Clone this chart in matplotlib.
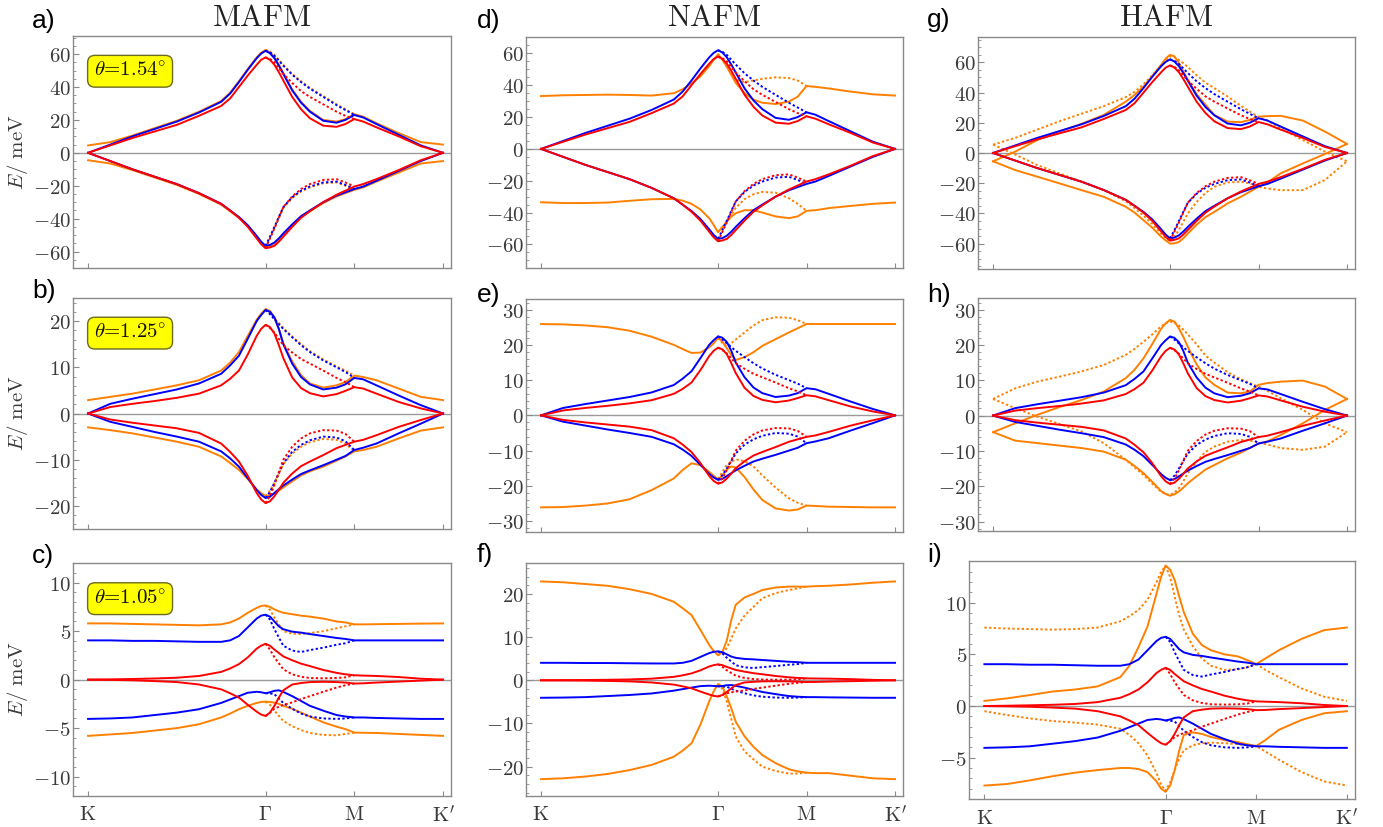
import matplotlib
matplotlib.use("Agg")
import matplotlib.pyplot as plt
from matplotlib.ticker import MultipleLocator

plt.rcParams['mathtext.fontset'] = 'cm'

# ---------------- k-path ----------------
K_PATH = [0, 0.25, 0.5, 0.75, 1.0, 1.25, 1.5,
          1.6, 1.7, 1.8, 1.9, 1.95,
          2.0, 2.05, 2.1, 2.15, 2.2,
          2.3, 2.4, 2.5, 2.65, 2.8, 2.9,
          3.0, 3.1, 3.25, 3.5, 3.75, 4.0]
K_GM = [2.0, 2.05, 2.1, 2.2, 2.3, 2.4, 2.5, 2.65, 2.8, 2.9, 3.0]
SYM_POS = [0, 2, 3, 4]
SYM_LABELS = [r"$\mathrm{K}$", r"$\Gamma$", r"$\mathrm{M}$", r"$\mathrm{K}^{\prime}$"]
COLUMN_TITLES = ["MAFM", "NAFM", "HAFM"]
ANGLES = ["1.54", "1.25", "1.05"]
PANEL_LETTERS = ["a)", "b)", "c)", "d)", "e)", "f)", "g)", "h)", "i)"]

# ---------------- red / blue bands per twist angle ----------------
# theta = 1.54
r1_blue_up = [0, 5, 10, 14.5, 19, 24.5, 31, 36, 43, 50.5, 57.5, 60.3, 62, 60.5, 57.5, 53, 48, 38, 30.5, 25, 19.5, 18.3, 20, 23, 21.5, 17.5, 11, 4.5, 0]
r1_red_up = [0, 4.5, 9, 13, 17, 22.5, 28.5, 33, 40, 47, 53.5, 56.5, 58, 56.5, 53.5, 49, 44, 34, 26.5, 21, 16.5, 15.8, 17.5, 20.5, 19, 15.5, 10, 4, 0]
r1_blue_dn = [0, -5, -10, -14.5, -19, -24.5, -31, -35, -39, -44, -50.5, -54, -56.5, -56, -54.5, -52, -49, -43.5, -38.5, -35, -30, -26, -24, -22, -20.5, -17, -11, -5, 0]
r1_red_dn = [0, -5, -10, -14.5, -19, -24.5, -31, -35, -39.5, -45, -52, -55.5, -58, -57.5, -56.5, -54, -51, -45, -39.5, -35.5, -30, -25.5, -23, -20.5, -19, -16, -10.5, -4.5, 0]
r1_blue_up_d = [62, 61, 59, 53, 47.5, 43, 39, 34, 29, 26, 23]
r1_red_up_d = [58, 57, 55, 48, 42.5, 37.5, 34, 29.5, 25, 22.5, 20.5]
r1_blue_dn_d = [-56.5, -51, -45, -33, -27, -23, -20.5, -18, -17.5, -19.5, -22]
r1_red_dn_d = [-58, -52, -46, -33, -26.5, -22, -19, -16.5, -16, -18, -20.5]

# theta = 1.25
r2_blue_up = [0, 2.1, 3.2, 4.2, 5.2, 6.5, 8.6, 10.4, 12.5, 16.2, 20, 21.3, 22.4, 22, 20.8, 18.3, 15, 10.8, 7.9, 6.3, 5.2, 5.6, 6.3, 7.7, 7.4, 6.1, 3.9, 1.8, 0]
r2_red_up = [0, 1.4, 2.1, 2.7, 3.4, 4.3, 6.1, 7.5, 9.3, 12.8, 16.8, 18.3, 19.2, 18.7, 17.3, 14.8, 12, 7.8, 5.5, 4.4, 3.7, 4.2, 4.9, 5.7, 5.4, 4.3, 2.5, 1.1, 0]
r2_blue_dn = [0, -1.8, -2.9, -4, -5, -6.1, -8.2, -9.7, -11.5, -14, -16.6, -17.6, -18.3, -18, -17.2, -16.4, -15.6, -14.3, -13.1, -12.3, -11.2, -10, -9.2, -7.9, -7.4, -6.5, -4.3, -2.2, 0]
r2_red_dn = [0, -1.3, -2, -2.6, -3.2, -4.2, -6.5, -8.3, -10.4, -13.5, -17.2, -18.6, -19.4, -19, -17.9, -16.5, -15, -13, -11.4, -10.4, -9, -7.5, -6.8, -6.1, -5.7, -4.7, -2.9, -1.4, 0]
r2_blue_up_d = [22.4, 21.5, 20.4, 18.3, 16.5, 14.8, 13.3, 11.5, 10, 9, 7.7]
r2_red_up_d = [19.2, 18.5, 17.5, 14.8, 13.2, 11.8, 10.8, 9.3, 7.7, 6.8, 5.7]
r2_blue_dn_d = [-18.3, -17, -15, -10.8, -8.3, -6.8, -5.8, -5, -5.2, -6, -7.9]
r2_red_dn_d = [-19.4, -17.8, -15.5, -10, -7.2, -5.4, -4.3, -3.6, -3.7, -4.4, -6.1]

# theta = 1.05
r3_blue_up = [4.05, 4.05, 4.0, 4.0, 3.95, 3.9, 3.9, 4.05, 4.5, 5.4, 6.3, 6.6, 6.7, 6.5, 6.0, 5.5, 5.2, 4.95, 4.85, 4.7, 4.5, 4.3, 4.2, 4.05, 4.05, 4.05, 4.05, 4.05, 4.05]
r3_red_up = [0, 0.03, 0.07, 0.12, 0.2, 0.38, 0.8, 1.15, 1.6, 2.3, 3.2, 3.5, 3.7, 3.5, 3.1, 2.75, 2.4, 2.0, 1.65, 1.4, 1.0, 0.7, 0.55, 0.45, 0.42, 0.38, 0.27, 0.1, 0]
r3_blue_dn = [-4.05, -4.0, -3.9, -3.65, -3.4, -3.05, -2.4, -2.05, -1.7, -1.35, -1.25, -1.3, -1.4, -1.3, -1.15, -1.1, -1.27, -1.7, -2.2, -2.7, -3.2, -3.65, -3.8, -3.9, -3.9, -3.95, -4.0, -4.05, -4.05]
r3_red_dn = [0, -0.03, -0.07, -0.15, -0.25, -0.5, -1.0, -1.4, -1.85, -2.6, -3.3, -3.6, -3.75, -3.4, -2.7, -1.85, -1.1, -0.5, -0.35, -0.25, -0.22, -0.25, -0.3, -0.4, -0.38, -0.3, -0.2, -0.1, 0]
r3_blue_up_d = [6.7, 6.2, 5.2, 3.5, 3.0, 2.85, 3.05, 3.3, 3.6, 3.75, 4.05]
r3_red_up_d = [3.7, 3.1, 2.3, 1.07, 0.55, 0.3, 0.17, 0.14, 0.17, 0.24, 0.45]
r3_blue_dn_d = [-1.4, -1.42, -1.5, -2.4, -3.0, -3.5, -3.8, -4.0, -4.05, -4.0, -3.9]
r3_red_dn_d = [-3.75, -3.4, -3.0, -2.6, -2.35, -2.0, -1.7, -1.25, -0.82, -0.58, -0.4]

# ---------------- orange bands per panel ----------------
# MAFM: solid on the full path, dotted on Gamma-M
a_orange_up = [4.5, 6.5, 10.5, 15, 19.5, 25, 31.5, 36.5, 43.5, 51, 58, 60.8, 62.5, 61, 58, 53.5, 48.5, 38.5, 31, 25.5, 20, 19, 20.5, 23.5, 22, 18, 12, 6.5, 5]
a_orange_dn = [-4.5, -6.5, -10.5, -15, -19.5, -25, -31.5, -35.5, -39.5, -44.5, -51, -54.5, -57, -56.5, -55, -52.5, -49.5, -44, -39, -35.5, -30.5, -26.5, -24.5, -22.5, -21, -17.5, -12, -6.5, -5]
a_orange_up_d = [62.5, 61.5, 59.5, 53.5, 48, 43.5, 39.5, 34.5, 29.5, 26.5, 23.5]
a_orange_dn_d = [-57, -51.5, -45.5, -33.5, -27.5, -23.5, -21, -18.5, -18, -20, -22.5]

b_orange_up = [2.9, 3.6, 4.3, 5.2, 6.1, 7.2, 9.3, 11, 13.3, 16.8, 20.3, 21.6, 22.6, 22.2, 20.8, 18.3, 15.2, 11.3, 8.3, 6.5, 5.6, 6.1, 6.8, 8.2, 7.9, 7.2, 5.4, 3.6, 2.9]
b_orange_dn = [-3, -3.6, -4.3, -5.2, -6.1, -7.2, -9.3, -10.7, -12.2, -14.2, -16.4, -17.2, -17.9, -17.7, -17.3, -16.7, -16, -14.7, -13.4, -12.5, -11.5, -10.2, -9.3, -8.2, -7.9, -7.2, -5.4, -3.7, -3]
b_orange_up_d = [22.6, 21.7, 20.6, 18.5, 16.7, 15, 13.5, 11.7, 10.2, 9.3, 8.2]
b_orange_dn_d = [-17.9, -16.7, -15, -11, -8.7, -7.2, -6.2, -5.5, -5.7, -6.5, -8.2]

c_orange_up = [5.8, 5.8, 5.75, 5.7, 5.65, 5.6, 5.7, 5.9, 6.3, 6.9, 7.4, 7.6, 7.65, 7.5, 7.25, 7.05, 6.9, 6.75, 6.6, 6.5, 6.3, 6.0, 5.9, 5.7, 5.7, 5.72, 5.75, 5.78, 5.8]
c_orange_dn = [-5.8, -5.65, -5.5, -5.25, -5.0, -4.6, -3.9, -3.5, -3.05, -2.7, -2.4, -2.3, -2.27, -2.3, -2.37, -2.5, -2.7, -3.0, -3.4, -3.8, -4.4, -4.85, -5.1, -5.46, -5.48, -5.5, -5.6, -5.7, -5.8]
c_orange_up_d = [7.65, 7.2, 6.4, 5.0, 4.75, 4.7, 4.8, 5.0, 5.3, 5.5, 5.7]
c_orange_dn_d = [-2.27, -2.6, -3.2, -4.26, -4.8, -5.2, -5.5, -5.7, -5.74, -5.6, -5.46]

# NAFM: solid on the full path, dotted on Gamma-M
d_orange_up = [33.2, 33.7, 33.9, 34.1, 33.9, 33.5, 35, 37.5, 41.2, 45.5, 52, 55.8, 59.5, 56, 51.5, 46.5, 41.5, 35, 31, 29, 28.2, 29.7, 32.8, 39.5, 39, 38, 36, 34.3, 33.5]
d_orange_dn = [-33.5, -34, -34, -33.7, -32.6, -31.6, -31.4, -32.5, -34.5, -38, -43.5, -47.7, -52.3, -49, -45.6, -42.5, -40.4, -38.5, -38.5, -40, -42.4, -43.5, -42.4, -38.9, -38.5, -37.2, -35.8, -34.5, -33.7]
d_orange_up_d = [59.5, 56, 51.5, 43.5, 42, 43, 44, 45, 44.5, 43, 39.5]
d_orange_dn_d = [-52.3, -49, -45.6, -37, -31.5, -28.5, -27, -27.5, -31, -34.5, -38.9]

e_orange_up = [25.9, 25.8, 25.5, 25, 24, 22.3, 20, 18.8, 17.7, 17.8, 19.3, 20.4, 22, 20.9, 19, 17.1, 15.7, 16.5, 17.9, 19.7, 21.6, 23.5, 24.7, 25.9, 25.9, 25.9, 25.9, 25.9, 25.9]
e_orange_dn = [-26.1, -26, -25.6, -25, -23.8, -21.2, -17.9, -15.5, -13.6, -14.1, -16, -17.1, -18.1, -17, -15.3, -14.5, -14.8, -17.5, -21, -24, -26.4, -27, -26.7, -25.6, -25.7, -25.9, -26, -26.1, -26.1]
e_orange_up_d = [22, 20.5, 19.5, 21.5, 23.5, 25.5, 27, 27.8, 27.7, 27, 25.9]
e_orange_dn_d = [-18.1, -16, -14, -12.5, -13, -14.5, -17, -20.5, -23.5, -24.8, -25.6]

f_orange_up = [22.9, 22.7, 22.3, 21.9, 21.1, 20, 18.2, 16.7, 15.1, 11.7, 8.2, 6.8, 5.8, 6.6, 9.3, 14, 17.5, 19.2, 20, 20.9, 21.5, 21.7, 21.7, 21.7, 21.8, 21.9, 22.2, 22.6, 22.9]
f_orange_dn = [-22.9, -22.7, -22.3, -21.7, -20.8, -19.6, -17.7, -16.3, -14.6, -10.3, -4.9, -2.6, -0.85, -1.5, -3.8, -6.5, -9.6, -13, -15.4, -17.3, -19.2, -20.6, -21.1, -21.4, -21.5, -21.5, -22.1, -22.7, -22.9]
f_orange_up_d = [5.8, 6.3, 7.5, 12, 15, 17, 19, 20.2, 20.9, 21.3, 21.7]
f_orange_dn_d = [-0.85, -2, -5, -13, -16.5, -18.3, -20, -21, -21.6, -21.6, -21.4]

# HAFM: solid and dotted on the full path
g_orange_s1 = [-5.5, 0.9, 8.6, 14.2, 19.3, 25.2, 34, 38.5, 44, 51, 58.5, 62.5, 65, 64, 59.5, 54, 48.5, 39, 32, 25.2, 20.8, 20.4, 21.9, 24.1, 24.4, 24.6, 21.5, 14.2, 6]
g_orange_s2 = [-5.5, -11.3, -15.7, -20.1, -24.6, -29, -35.6, -39.5, -44.5, -49.5, -55.5, -57.8, -60, -59.8, -58.9, -56.5, -53.4, -47.5, -42.5, -39, -33.4, -29, -25.7, -22.4, -19.5, -13.5, -6.9, -0.7, 6]
g_orange_d1 = [5.5, 10, 15.5, 21, 26, 31, 37, 40.5, 45.5, 51.5, 58, 61, 64, 63.5, 61.5, 59.5, 57, 51.5, 46.5, 43, 37.4, 31.2, 27.5, 23.7, 21.5, 16.4, 8.6, 0.9, -5.5]
g_orange_d2 = [5.5, -1, -8, -13.5, -19, -24.5, -32, -36.5, -41.5, -47, -53.5, -56, -58.5, -55.5, -51, -45.5, -40, -32.5, -26.5, -22.4, -19.5, -19, -20.1, -22.4, -23.5, -24.6, -24.6, -17.9, -5.5]

h_orange_s1 = [-4.7, -2.2, 0.2, 2.4, 4.4, 6.8, 10.6, 13, 16.2, 20.3, 24.6, 26.1, 27.1, 26.6, 24.7, 22.3, 19.5, 14.5, 10.8, 8.7, 6.5, 6.3, 6.8, 8.7, 9.2, 9.6, 9.9, 8.2, 4.7]
h_orange_s2 = [-4.7, -7.1, -7.8, -8.5, -9.2, -10.2, -12.5, -14.3, -16.3, -18.8, -21.4, -22.2, -22.7, -22.3, -21.5, -20.4, -19.2, -17.2, -15.3, -14, -12.1, -10.5, -9.2, -8, -7.3, -5.5, -2.2, 1.6, 4.7]
h_orange_d1 = [4.7, 7.7, 9.6, 11, 12.5, 14.3, 17.2, 18.9, 20.9, 23, 25.3, 26.1, 26.6, 26.3, 25.5, 24.3, 23, 20.2, 17, 15, 12.3, 10.3, 9.2, 8.2, 7, 4.9, 1.6, -2.2, -4.7]
h_orange_d2 = [4.7, 2.1, -0.3, -2.4, -4.5, -7.8, -12.5, -14.7, -16.8, -19.3, -21.6, -22.2, -22.5, -21.8, -20.6, -18.6, -16.3, -13, -10.3, -8.8, -7.4, -6.9, -7.1, -7.6, -8.2, -9.2, -9.7, -8.8, -4.7]

i_orange_s1 = [0.5, 0.74, 1.06, 1.4, 1.6, 1.9, 2.8, 3.9, 5.7, 7.7, 10.9, 12.5, 13.6, 13.2, 12.2, 10.6, 9.1, 7.0, 5.9, 5.4, 5, 4.8, 4.45, 4.06, 4.6, 5.4, 6.5, 7.35, 7.6]
i_orange_s2 = [-7.7, -7.55, -7.2, -6.8, -6.45, -6.2, -6.0, -6.0, -6.1, -6.4, -7.3, -8.0, -8.3, -7.7, -6.2, -4.3, -2.8, -2.55, -2.7, -3, -3.3, -3.5, -3.7, -3.87, -3.3, -2.3, -1.35, -0.7, -0.5]
i_orange_d1 = [7.6, 7.5, 7.45, 7.4, 7.45, 7.6, 8.2, 8.7, 9.3, 10.3, 12, 13, 13.55, 12.5, 10.6, 8.8, 7.4, 5.8, 4.6, 3.9, 3.5, 3.55, 3.75, 4.06, 3.5, 2.8, 1.7, 0.9, 0.5]
i_orange_d2 = [-0.5, -0.87, -1.2, -1.45, -1.6, -1.8, -2.2, -2.8, -3.6, -4.8, -6.5, -7.6, -8.2, -7.4, -6.2, -5.1, -4.3, -3.8, -3.6, -3.55, -3.6, -3.7, -3.8, -3.87, -4.4, -5.2, -6.4, -7.3, -7.7]

# ---------------- style ----------------
ORANGE = '#FF8000'
BLUE = '#0000FF'
RED = '#FF0000'
LW = 1.4
DOT = (0, (1.2, 1.2))
FRAME = '#8a8a8a'
TXT = '#3a3a3a'

W, H = 1383, 827
fig = plt.figure(figsize=(W / 100, H / 100), dpi=100)

# axes boxes in pixels: left, top, right, bottom
boxes = [
    (73, 36, 451, 268), (73, 298, 451, 529), (73, 563.3, 451, 796),
    (526, 36.7, 903, 268.3), (526, 299, 903, 531.7), (526, 563.3, 903, 796),
    (978, 36.7, 1355, 269.3), (978, 298.3, 1355, 530.7), (969, 560.7, 1355, 799.3),
]
ylims = [(-70, 71), (-25, 25), (-12, 12),
         (-75, 70.5), (-33, 33), (-26.8, 27.1),
         (-77, 77), (-32.6, 33.2), (-9.03, 14.07)]
yticks = [[-60, -40, -20, 0, 20, 40, 60], [-20, -10, 0, 10, 20], [-10, -5, 0, 5, 10],
          [-60, -40, -20, 0, 20, 40, 60], [-30, -20, -10, 0, 10, 20, 30], [-20, -10, 0, 10, 20],
          [-60, -40, -20, 0, 20, 40, 60], [-30, -20, -10, 0, 10, 20, 30], [-5, 0, 5, 10]]
yminor = [5, 2, 1, 5, 2, 2, 5, 2, 1]

rows = [
    dict(bu=r1_blue_up, ru=r1_red_up, bd=r1_blue_dn, rd=r1_red_dn,
         bud=r1_blue_up_d, rud=r1_red_up_d, bdd=r1_blue_dn_d, rdd=r1_red_dn_d),
    dict(bu=r2_blue_up, ru=r2_red_up, bd=r2_blue_dn, rd=r2_red_dn,
         bud=r2_blue_up_d, rud=r2_red_up_d, bdd=r2_blue_dn_d, rdd=r2_red_dn_d),
    dict(bu=r3_blue_up, ru=r3_red_up, bd=r3_blue_dn, rd=r3_red_dn,
         bud=r3_blue_up_d, rud=r3_red_up_d, bdd=r3_blue_dn_d, rdd=r3_red_dn_d),
]

# orange curves: (x, y, dotted?)
orange_sets = [
    [(K_GM, a_orange_up_d, True), (K_GM, a_orange_dn_d, True), (K_PATH, a_orange_up, False), (K_PATH, a_orange_dn, False)],
    [(K_GM, b_orange_up_d, True), (K_GM, b_orange_dn_d, True), (K_PATH, b_orange_up, False), (K_PATH, b_orange_dn, False)],
    [(K_GM, c_orange_up_d, True), (K_GM, c_orange_dn_d, True), (K_PATH, c_orange_up, False), (K_PATH, c_orange_dn, False)],
    [(K_GM, d_orange_up_d, True), (K_GM, d_orange_dn_d, True), (K_PATH, d_orange_up, False), (K_PATH, d_orange_dn, False)],
    [(K_GM, e_orange_up_d, True), (K_GM, e_orange_dn_d, True), (K_PATH, e_orange_up, False), (K_PATH, e_orange_dn, False)],
    [(K_GM, f_orange_up_d, True), (K_GM, f_orange_dn_d, True), (K_PATH, f_orange_up, False), (K_PATH, f_orange_dn, False)],
    [(K_PATH, g_orange_d1, True), (K_PATH, g_orange_d2, True), (K_PATH, g_orange_s1, False), (K_PATH, g_orange_s2, False)],
    [(K_PATH, h_orange_d1, True), (K_PATH, h_orange_d2, True), (K_PATH, h_orange_s1, False), (K_PATH, h_orange_s2, False)],
    [(K_PATH, i_orange_d1, True), (K_PATH, i_orange_d2, True), (K_PATH, i_orange_s1, False), (K_PATH, i_orange_s2, False)],
]

for idx in range(9):
    col, row = divmod(idx, 3)
    L, T, R, B = boxes[idx]
    ax = fig.add_axes([L / W, 1 - B / H, (R - L) / W, (B - T) / H])
    ax.set_xlim(-0.17, 4.09)
    ax.set_ylim(*ylims[idx])
    ax.axhline(0, color='#9a9a9a', lw=1.0, zorder=1)

    for x, y, dotted in orange_sets[idx]:
        ax.plot(x, y, color=ORANGE, lw=LW, ls=DOT if dotted else '-', zorder=2,
                solid_joinstyle='round')
    rd = rows[row]
    for key in ('bud', 'bdd'):
        ax.plot(K_GM, rd[key], color=BLUE, lw=LW, ls=DOT, zorder=3)
    for key in ('bu', 'bd'):
        ax.plot(K_PATH, rd[key], color=BLUE, lw=LW, zorder=3, solid_joinstyle='round')
    for key in ('rud', 'rdd'):
        ax.plot(K_GM, rd[key], color=RED, lw=LW, ls=DOT, zorder=4)
    for key in ('ru', 'rd'):
        ax.plot(K_PATH, rd[key], color=RED, lw=LW, zorder=4, solid_joinstyle='round')

    for s in ax.spines.values():
        s.set_color(FRAME)
        s.set_linewidth(1.0)

    ax.set_yticks(yticks[idx])
    ax.set_yticklabels([r"$%d$" % t for t in yticks[idx]])
    ax.yaxis.set_minor_locator(MultipleLocator(yminor[idx]))
    ax.set_xticks(SYM_POS)
    if row == 2:
        ax.set_xticklabels(SYM_LABELS)
    else:
        ax.set_xticklabels([])
    ax.tick_params(axis='y', which='major', direction='in', length=4.5, width=0.8,
                   color=FRAME, labelsize=15, labelcolor=TXT, pad=1.5)
    ax.tick_params(axis='y', which='minor', direction='in', length=2.2, width=0.6,
                   color=FRAME)
    ax.tick_params(axis='x', which='major', direction='in', length=3.5, width=0.8,
                   color=FRAME, labelsize=15, labelcolor=TXT, pad=6)

    if col == 0:
        ax.text(0.151, 0.848, r"$\theta$=%s$^{\circ}$" % ANGLES[row], transform=ax.transAxes,
                ha='center', va='center', fontsize=15, color='#111111', family='cmr10',
                bbox=dict(boxstyle='round,pad=0.3,rounding_size=0.35', fc='#FFFF00',
                          ec='#6a6a20', lw=1.0))
        fig.text(17 / W, 1 - (T + B) / 2 / H, r"$E/\ \mathrm{meV}$", rotation=90,
                 ha='center', va='center', fontsize=15, color=TXT)
    if row == 0:
        fig.text((L + R) / 2 / W, 1 - 18 / H, r"$\mathrm{%s}$" % COLUMN_TITLES[col],
                 ha='center', va='center', fontsize=22, color='#222222')

# panel letters
letter_x = [32, 477, 927]
letter_base = [[27.7, 297.7, 562.7], [27.7, 301.7, 561.7], [26.7, 301.7, 562.3]]
for idx in range(9):
    col, row = divmod(idx, 3)
    fig.text(letter_x[col] / W, 1 - letter_base[col][row] / H, PANEL_LETTERS[idx],
             ha='left', va='baseline', fontsize=19, family='Liberation Sans', color='black')

fig.savefig("out.png", dpi=100)
